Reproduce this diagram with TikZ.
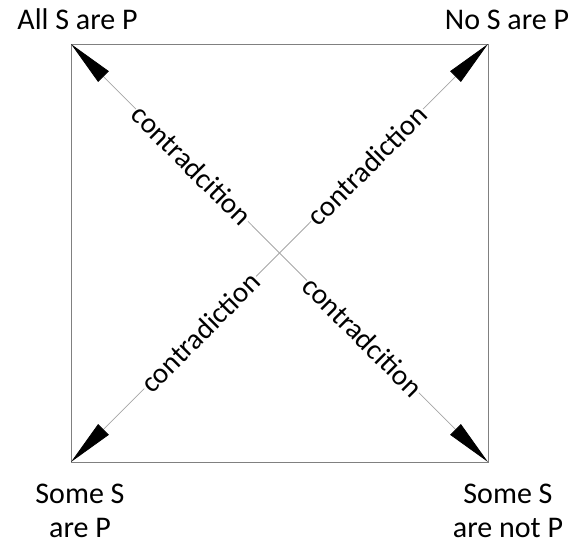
\documentclass[tikz,border=0pt]{standalone}
\usepackage{fontspec}
\setmainfont{Carlito}
\usetikzlibrary{arrows.meta}
\begin{document}
\begin{tikzpicture}[x=1pt,y=-1pt,
  corner/.style={inner sep=0pt, font=\fontsize{30}{34}\selectfont, align=center},
  diag/.style={draw=gray!70, line width=0.8pt,
    {Triangle[length=46pt,width=15pt,black]}-{Triangle[length=46pt,width=15pt,black]}},
  lab/.style={sloped, fill=white, inner sep=1pt, font=\fontsize{29}{33}\selectfont},
  frame/.style={draw=gray, line width=1pt}]
\useasboundingbox (0,0) rectangle (576,546);
\coordinate (tl) at (71,44);
\coordinate (tr) at (488,44);
\coordinate (bl) at (71,462);
\coordinate (br) at (488,462);
\draw[frame] (tl) rectangle (br);
\draw[diag] (tl) -- (br)
  node[lab,pos=0.29] (t1) {contradcition}
  node[lab,pos=0.70] (t2) {contradcition};
\draw[diag] (bl) -- (tr)
  node[lab,pos=0.31] (t3) {contradiction}
  node[lab,pos=0.71] (t4) {contradiction};
\node[corner, anchor=base] (A) at (77.5,30) {All S are P};
\node[corner, anchor=base] (E) at (507,30) {No S are P};
\node[corner] (I) at (80,511) {Some S\\are P};
\node[corner] (O) at (508,511) {Some S\\are not P};
\end{tikzpicture}
\end{document}
